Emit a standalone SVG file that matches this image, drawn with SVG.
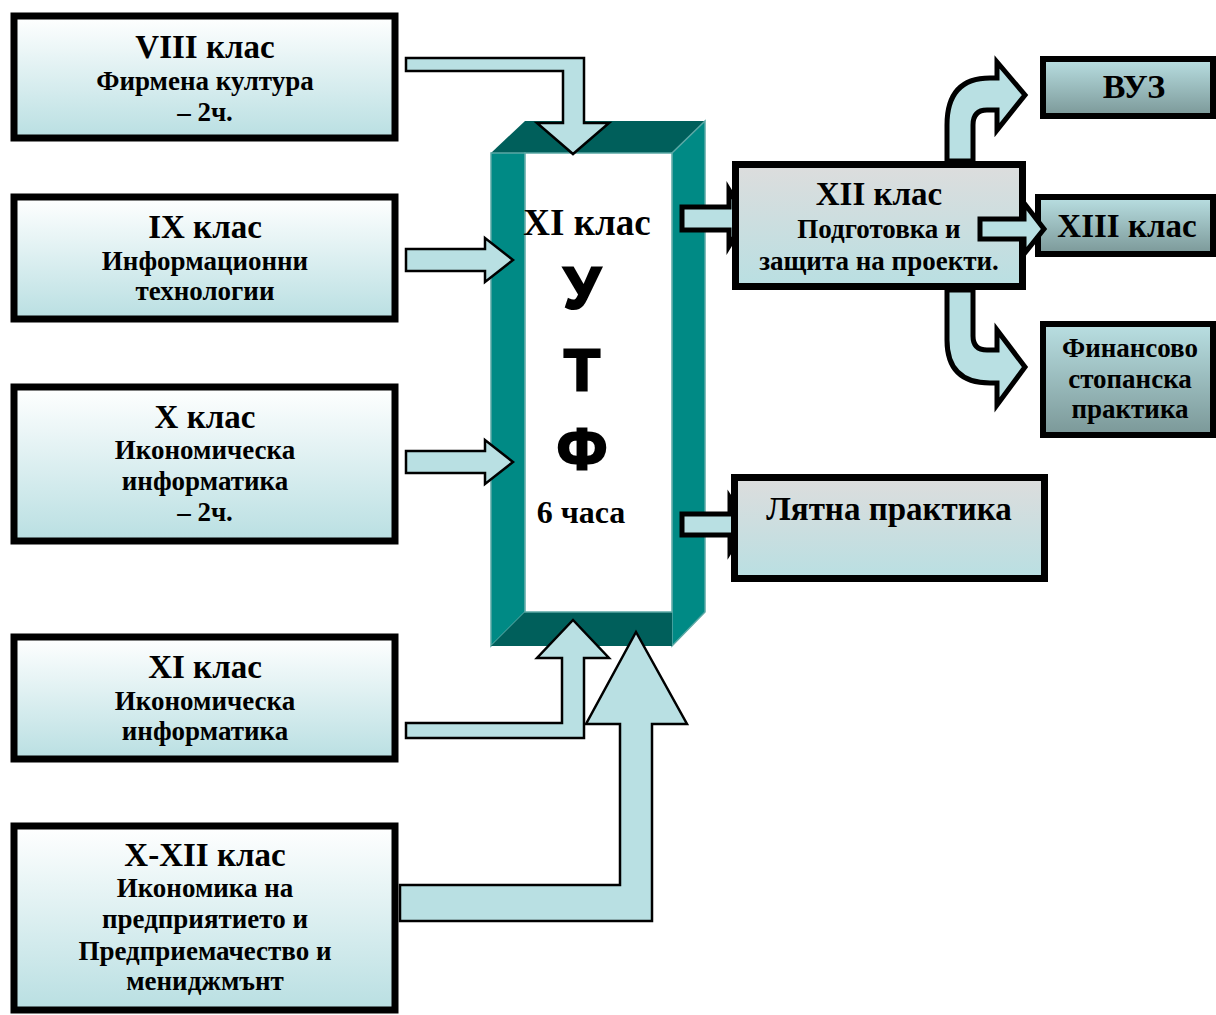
<svg xmlns="http://www.w3.org/2000/svg" width="1216" height="1015" viewBox="0 0 1216 1015">
<defs>
<linearGradient id="gLeft" x1="0" y1="0" x2="0" y2="1">
<stop offset="0" stop-color="#ffffff"/><stop offset="1" stop-color="#b9dfe2"/>
</linearGradient>
<linearGradient id="gGray" x1="0" y1="0" x2="0" y2="1">
<stop offset="0" stop-color="#dddddd"/><stop offset="1" stop-color="#b9dfe2"/>
</linearGradient>
<linearGradient id="gDark" x1="0" y1="0" x2="0" y2="1">
<stop offset="0" stop-color="#b9dfe2"/><stop offset="1" stop-color="#7b9898"/>
</linearGradient>
<style>
.box{stroke:#000;stroke-width:7}
.boxs{stroke:#000;stroke-width:6}
.t{font-family:"Liberation Serif","Times New Roman",serif;font-weight:bold;fill:#000;text-anchor:middle}
.h{font-size:33px}
.s{font-size:27px}
.arr{fill:#b9e0e3;stroke:#000;stroke-width:2.5;stroke-linejoin:miter}
.arrb{fill:#b9e0e3;stroke:#000;stroke-width:5;stroke-linejoin:miter}
.big{font-family:"Liberation Sans",Arial,sans-serif;font-weight:bold;font-size:58px;fill:#000;stroke:#000;stroke-width:3;text-anchor:middle}
</style>
</defs>
<rect width="1216" height="1015" fill="#ffffff"/>

<g id="column">
<polygon points="491,153 525,121 705,121 672,153" fill="#005f5b"/>
<polygon points="491,153 525,153 525,612 491,646" fill="#008a85" stroke="#5aa8a5" stroke-width="1.5"/>
<polygon points="672,153 705,121 705,612 672,646" fill="#008a85" stroke="#5aa8a5" stroke-width="1.5"/>
<polygon points="525,612 672,612 672,646 491,646" fill="#005f5b"/>
<rect x="525" y="153" width="147" height="459" fill="#ffffff" stroke="#5aa8a5" stroke-width="1.5"/>
<text class="t" style="font-size:37px" x="587" y="235">XI клас</text>
<text class="big" x="582" y="308">У</text>
<text class="big" x="582" y="390">Т</text>
<text class="big" x="582" y="469">Ф</text>
<text class="t" style="font-size:32px" x="581" y="523">6 часа</text>
</g>

<g id="connectors">
<path class="arr" d="M406,58 L584,58 L584,123 L609,123 L573,154 L537,123 L563,123 L563,71 L406,71 Z"/>
<path class="arr" d="M406,249 L485,249 L485,238 L513,260 L485,282 L485,271 L406,271 Z"/>
<path class="arr" d="M406,451 L485,451 L485,440 L513,462 L485,484 L485,473 L406,473 Z"/>
<path class="arr" d="M406,723 L562,723 L562,658 L537,658 L573,620 L609,658 L584,658 L584,738 L406,738 Z"/>
<path class="arr" d="M400,885 L620,885 L620,724 L586,724 L636,632 L687,724 L652,724 L652,921 L400,921 Z"/>
<path class="arrb" d="M682,207 L729,207 L729,190 L746,218 L729,246 L729,230 L682,230 Z"/>
<path class="arrb" d="M682,514 L730,514 L730,498 L747,524 L730,551 L730,535 L682,535 Z"/>
<path class="arrb" d="M947,161 L947,125 Q947,78 990,78 L997,78 L997,62 L1025,95 L997,130 L997,110 L987,110 Q973,110 973,125 L973,161 Z"/>
<path class="arrb" d="M947,290 L947,340 Q947,383 990,383 L997,383 L997,405 L1025,367 L997,330 L997,350 L987,350 Q973,350 973,336 L973,290 Z"/>
</g>

<g id="n-viii">
<rect class="box" x="14" y="16" width="381" height="122" fill="url(#gLeft)"/>
<text class="t h" x="205" y="58">VIII клас</text>
<text class="t s" x="205" y="90">Фирмена култура</text>
<text class="t s" x="205" y="121">– 2ч.</text>
</g>
<g id="n-ix">
<rect class="box" x="14" y="197" width="381" height="122" fill="url(#gLeft)"/>
<text class="t h" x="205" y="238">IX клас</text>
<text class="t s" x="205" y="270">Информационни</text>
<text class="t s" x="205" y="300">технологии</text>
</g>
<g id="n-x">
<rect class="box" x="14" y="387" width="381" height="154" fill="url(#gLeft)"/>
<text class="t h" x="205" y="428">X клас</text>
<text class="t s" x="205" y="459">Икономическа</text>
<text class="t s" x="205" y="490">информатика</text>
<text class="t s" x="205" y="521">– 2ч.</text>
</g>
<g id="n-xi">
<rect class="box" x="14" y="637" width="381" height="122" fill="url(#gLeft)"/>
<text class="t h" x="205" y="678">XI клас</text>
<text class="t s" x="205" y="710">Икономическа</text>
<text class="t s" x="205" y="740">информатика</text>
</g>
<g id="n-xxii">
<rect class="box" x="14" y="826" width="381" height="184" fill="url(#gLeft)"/>
<text class="t h" x="205" y="866">X-XII клас</text>
<text class="t s" x="205" y="897">Икономика на</text>
<text class="t s" x="205" y="928">предприятието и</text>
<text class="t s" x="205" y="960">Предприемачество и</text>
<text class="t s" x="205" y="990">мениджмънт</text>
</g>

<g id="n-xii">
<rect class="box" x="735.5" y="164.5" width="287" height="122" fill="url(#gGray)"/>
<text class="t h" x="879" y="205">XII клас</text>
<text class="t s" x="879" y="238">Подготовка и</text>
<text class="t s" x="879" y="270">защита на проекти.</text>
</g>
<g id="n-summer">
<rect class="box" x="734.5" y="477.5" width="310" height="101" fill="url(#gGray)"/>
<text class="t h" x="889" y="520">Лятна практика</text>
</g>
<g id="n-vuz">
<rect class="boxs" x="1043" y="59" width="170" height="57" fill="url(#gDark)"/>
<text class="t" style="font-size:34px" x="1134" y="98">ВУЗ</text>
</g>
<g id="n-xiii">
<rect class="boxs" x="1038" y="197" width="175" height="57" fill="url(#gDark)"/>
<text class="t h" x="1127" y="237">XIII клас</text>
</g>
<g id="n-fin">
<rect class="boxs" x="1043" y="324" width="170" height="111" fill="url(#gDark)"/>
<text class="t s" x="1130" y="357">Финансово</text>
<text class="t s" x="1130" y="388">стопанска</text>
<text class="t s" x="1130" y="418">практика</text>
</g>
<path class="arrb" d="M980,219 L1024,219 L1024,203 L1044,229 L1024,254 L1024,239 L980,239 Z"/>
</svg>
